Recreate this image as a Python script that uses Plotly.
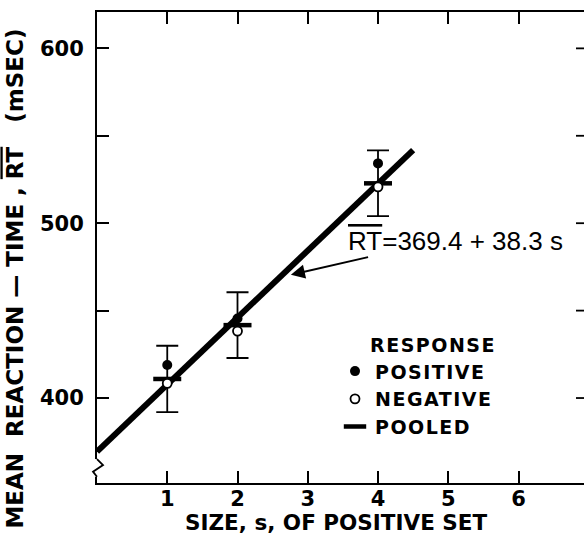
import plotly.graph_objects as go

# ---- data ----
set_size = [1, 2, 4]
rt_positive = [418.9, 445.5, 534.2]
rt_negative = [408.4, 438.3, 520.8]
rt_pooled = [410.9, 441.7, 522.8]
pooled_err = [19.0, 18.8, 18.8]

fit_s = [0.0, 4.5]
fit_rt = [369.4, 541.8]

x_ticks = [1, 2, 3, 4, 5, 6]
x_ticktext = ["1", "2", "3", "4", "5", "6"]
y_ticks = [400, 450, 500, 550, 600]
y_ticktext = ["400", "", "500", "", "600"]

LET = "DejaVu Sans"
BLK = "black"
SP = "<span style='letter-spacing:1.5px'>{}</span>"

FIG_W = 584
L = 97
px_per_unit = 70.25
PW = FIG_W - L

fig = go.Figure()

fig.add_trace(go.Scatter(
    x=fit_s, y=fit_rt, mode="lines",
    line=dict(color=BLK, width=6), showlegend=False, hoverinfo="skip"))

fig.add_trace(go.Scatter(
    x=set_size, y=rt_pooled, mode="markers", name=SP.format("POOLED"), legendrank=3,
    marker=dict(symbol="line-ew", size=20, color=BLK, line=dict(color=BLK, width=4.5)),
    error_y=dict(type="data", array=pooled_err, visible=True, color=BLK,
                 thickness=1.8, width=11)))

fig.add_trace(go.Scatter(
    x=set_size, y=rt_positive, mode="markers", name=SP.format("POSITIVE"), legendrank=1,
    marker=dict(symbol="circle", size=10, color=BLK, line=dict(color=BLK, width=0))))

fig.add_trace(go.Scatter(
    x=set_size, y=rt_negative, mode="markers", name=SP.format("NEGATIVE"), legendrank=2,
    marker=dict(symbol="circle", size=9, color="white", line=dict(color=BLK, width=1.8))))

axis_common = dict(ticks="inside", ticklen=12, tickwidth=1.8, tickcolor=BLK,
                   showgrid=False, zeroline=False,
                   showline=True, linecolor=BLK, linewidth=2,
                   tickfont=dict(family=LET, size=21, color=BLK, weight="bold"))

fig.update_layout(
    width=FIG_W, height=538,
    margin=dict(l=L, r=0, t=12, b=55),
    plot_bgcolor="white", paper_bgcolor="white",
    xaxis=dict(range=[0, PW / px_per_unit], tickvals=x_ticks, ticktext=x_ticktext,
               mirror="ticks", ticklabelstandoff=-4, **axis_common),
    yaxis=dict(range=[351.4, 620.8], tickvals=y_ticks, ticktext=y_ticktext,
               mirror=False, ticklabelstandoff=7, **axis_common),
    legend=dict(x=(335 - L) / PW, y=0.33, xanchor="left", yanchor="top",
                bgcolor="rgba(0,0,0,0)", borderwidth=0,
                font=dict(family=LET, size=19, color=BLK, weight="bold"),
                title=dict(text="&nbsp;&nbsp;&nbsp;&nbsp;&nbsp;" + SP.format("RESPONSE"),
                           side="top",
                           font=dict(family=LET, size=19, color=BLK, weight="bold")),
                tracegroupgap=0, itemwidth=30),
    showlegend=True,
)

# right-hand inward ticks; the frame's right edge lies beyond the picture
for v in y_ticks:
    fig.add_shape(type="line", xref="paper", yref="y", x0=1 - 8 / PW, x1=1.0,
                  y0=v, y1=v, line=dict(color=BLK, width=1.8), layer="above")

# axis titles
fig.add_annotation(
    text="SIZE, s, OF POSITIVE SET", xref="paper", yref="paper",
    x=(336 - L) / PW, y=-0.083, showarrow=False, xanchor="center", yanchor="middle",
    font=dict(family=LET, size=21.5, color=BLK, weight="bold"))
fig.add_annotation(
    text="MEAN  REACTION — TIME , <span style='text-decoration:overline'>RT</span>   (mSEC)",
    xref="paper", yref="paper", x=(15 - L) / PW, y=0.434, textangle=-90,
    showarrow=False, xanchor="center", yanchor="middle",
    font=dict(family=LET, size=23, color=BLK, weight="bold"))

# fitted equation and arrow
fig.add_annotation(
    text="<span style='text-decoration:overline'>RT</span>=369.4 + 38.3 s",
    xref="x", yref="y", x=3.55, y=489.8, xanchor="left", yanchor="middle",
    showarrow=False, font=dict(family="Liberation Sans", size=26, color=BLK))
fig.add_annotation(
    text="", xref="x", yref="y", x=2.76, y=470.5, axref="x", ayref="y",
    ax=3.88, ay=480.8, showarrow=True, arrowhead=2, arrowsize=1.4,
    arrowwidth=2, arrowcolor=BLK, standoff=0, startstandoff=0)

# axis break (zigzag) on the left frame
dx = 1.0 / PW
fig.add_shape(type="rect", xref="paper", yref="y", x0=-4 * dx, x1=4 * dx,
              y0=355.0, y1=365.1, fillcolor="white", line=dict(width=0), layer="above")
fig.add_shape(type="path", xref="paper", yref="y",
              path=f"M 0,365.1 L {6*dx:.5f},361.7 L {-4*dx:.5f},357.9 L 0,355.0",
              line=dict(color=BLK, width=1.8), layer="above")

fig.write_html(
    "out.html",
    config={"displayModeBar": False},
    post_script="document.body.style.margin='0';document.body.style.overflow='hidden';")
